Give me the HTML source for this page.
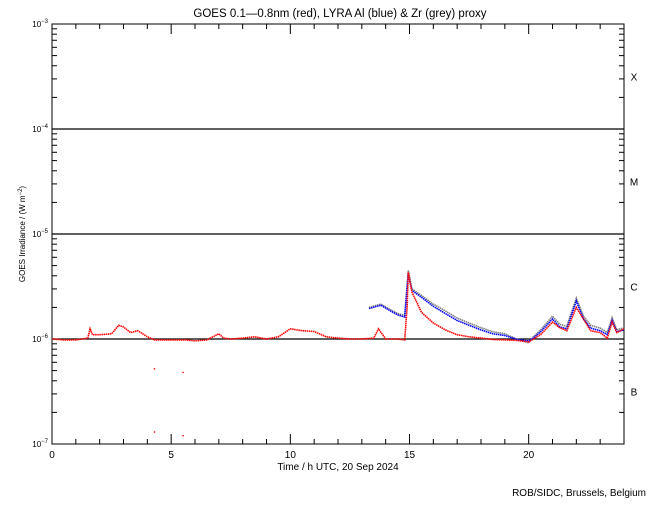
<!DOCTYPE html>
<html><head><meta charset="utf-8"><style>
body{margin:0;background:#fff;}
svg text{font-family:"Liberation Sans",sans-serif;fill:#000;}
</style></head><body>
<svg id="c" width="650" height="500" xmlns="http://www.w3.org/2000/svg"></svg>
<script>
const redT=[0,0.5,1,1.5,1.6,1.7,2,2.5,2.8,3,3.3,3.6,4,4.3,5.6,6,6.5,7,7.2,7.5,8,8.5,9,9.5,10,10.5,11,11.5,12,12.5,13,13.5,13.7,14,14.5,14.8,14.9,14.95,15.1,15.5,16,16.5,17,17.5,18,18.5,19,19.5,20,20.5,21,21.3,21.6,22,22.3,22.6,23,23.3,23.5,23.7,24];
const redV=[1.0e-6,0.98e-6,0.98e-6,1.02e-6,1.25e-6,1.1e-6,1.1e-6,1.12e-6,1.35e-6,1.3e-6,1.15e-6,1.2e-6,1.05e-6,0.98e-6,0.98e-6,0.96e-6,0.98e-6,1.12e-6,1.02e-6,1.0e-6,1.02e-6,1.05e-6,1.0e-6,1.05e-6,1.25e-6,1.2e-6,1.18e-6,1.05e-6,1.02e-6,1.0e-6,1.0e-6,1.02e-6,1.25e-6,1.0e-6,1.0e-6,0.98e-6,2.0e-6,4.3e-6,2.8e-6,1.8e-6,1.42e-6,1.22e-6,1.1e-6,1.05e-6,1.02e-6,0.99e-6,0.98e-6,0.97e-6,0.94e-6,1.1e-6,1.45e-6,1.28e-6,1.2e-6,2.0e-6,1.55e-6,1.2e-6,1.15e-6,1.02e-6,1.45e-6,1.15e-6,1.25e-6];
const blueT=[13.3,13.8,14.2,14.5,14.8,14.95,15.1,15.5,16,16.5,17,17.5,18,18.5,19,19.5,20,20.2,20.5,21,21.3,21.6,22,22.3,22.6,23,23.3,23.5,23.7,24];
const blueV=[1.95e-6,2.1e-6,1.85e-6,1.7e-6,1.62e-6,4.2e-6,2.9e-6,2.5e-6,2.05e-6,1.75e-6,1.5e-6,1.35e-6,1.22e-6,1.12e-6,1.08e-6,0.99e-6,0.96e-6,1.02e-6,1.17e-6,1.55e-6,1.3e-6,1.25e-6,2.3e-6,1.55e-6,1.27e-6,1.2e-6,1.1e-6,1.5e-6,1.17e-6,1.22e-6];
const greyT=blueT;
const greyV=[2.0e-6,2.15e-6,1.9e-6,1.75e-6,1.68e-6,4.5e-6,3.0e-6,2.6e-6,2.15e-6,1.85e-6,1.58e-6,1.42e-6,1.28e-6,1.17e-6,1.12e-6,1.0e-6,0.92e-6,1.05e-6,1.22e-6,1.65e-6,1.38e-6,1.32e-6,2.45e-6,1.65e-6,1.35e-6,1.27e-6,1.15e-6,1.6e-6,1.22e-6,1.28e-6];
const outT=[4.3,4.3,5.5,5.5];
const outV=[5.2e-7,1.3e-7,4.8e-7,1.2e-7];
const xTicks=[0,5,10,15,20];
const yExp=[-7,-6,-5,-4,-3];
const classes=["B","C","M","X"];

const L=52,R=624,T=24,B=444;
const X=h=>L+(h/24)*(R-L);
const Y=v=>B-(Math.log10(v)+7)/4*(B-T);
const svg=document.getElementById('c');
const NS='http://www.w3.org/2000/svg';
function mk(tag,at,p){const e=document.createElementNS(NS,tag);for(const k in at)e.setAttribute(k,at[k]);(p||svg).appendChild(e);return e;}

let t=mk('text',{x:340,y:17,'font-size':11.5,'text-anchor':'middle'});


t.textContent='GOES 0.1\u20140.8nm (red), LYRA Al (blue) & Zr (grey) proxy';

let fr=mk('rect',{x:L,y:T,width:R-L,height:B-T,fill:'none',stroke:'#000','stroke-width':1});



for(let h=0;h<=24;h++){
  const len=(h%5===0)?10:5;
  mk('line',{x1:X(h),x2:X(h),y1:B,y2:B-len,stroke:'#000'});
  mk('line',{x1:X(h),x2:X(h),y1:T,y2:T+len,stroke:'#000'});
}
xTicks.forEach(h=>{
  const e=mk('text',{x:X(h),y:B+14,'font-size':10,'text-anchor':'middle'});
  
  
  e.textContent=h;
});
for(let d=-7;d<-3;d++){
  for(let m=1;m<10;m++){
    const y=Y(m*Math.pow(10,d));
    const len=m===1?10:5;
    mk('line',{x1:L,x2:L+len,y1:y,y2:y,stroke:'#000'});
    mk('line',{x1:R,x2:R-len,y1:y,y2:y,stroke:'#000'});
  }
}
yExp.forEach(ex=>{
  const y=Y(Math.pow(10,ex));
  const e=mk('text',{x:L-4,y:y+3,'font-size':8,'text-anchor':'end'});
  
  
  e.innerHTML='10<tspan dy="-4" font-size="6">\u2212'+(-ex)+'</tspan>';
  if(ex>-7&&ex<-3){
    const g=mk('line',{x1:L,x2:R,y1:y,y2:y,stroke:'#000','stroke-width':1.3});
    
    
  }
});
classes.forEach((c,i)=>{
  const e=mk('text',{x:634,y:Y(Math.pow(10,-6.5+i))+4,'font-size':10,'text-anchor':'middle'});
  
  
  e.textContent=c;
});
let yl=mk('text',{x:0,y:0,'font-size':8,'text-anchor':'middle',transform:'translate(25,234) rotate(-90)'});


yl.innerHTML='GOES Irradiance / (W m<tspan dy="-3" font-size="6">\u22122</tspan><tspan dy="3">)</tspan>';
let xl=mk('text',{x:338,y:470,'font-size':10,'text-anchor':'middle'});


xl.textContent='Time / h UTC, 20 Sep 2024';
let cr=mk('text',{x:646,y:496,'font-size':10,'text-anchor':'end'});


cr.textContent='ROB/SIDC, Brussels, Belgium';

function series(ts,vs,col,name,splitAt){
  let d='';
  ts.forEach((h,i)=>{const mv=(i===0||(splitAt&&ts[i-1]<splitAt&&h>=splitAt+1))?'M':'L';d+=mv+X(h).toFixed(1)+' '+Y(vs[i]).toFixed(1)+' ';});
  const p=mk('path',{d:d,fill:'none',stroke:col,'stroke-width':1.6,'stroke-dasharray':'1.5 0.6'});
  
  
}
series(greyT,greyV,'#808080','zr-grey-series');
series(blueT,blueV,'#0000ff','al-blue-series');
series(redT,redV,'#ff0000','goes-red-series',4.3);
outT.forEach((h,i)=>{
  const r=mk('rect',{x:X(h)-0.7,y:Y(outV[i])-0.7,width:1.4,height:1.4,fill:'#ff0000'});
  
  
});
</script>
</body></html>
